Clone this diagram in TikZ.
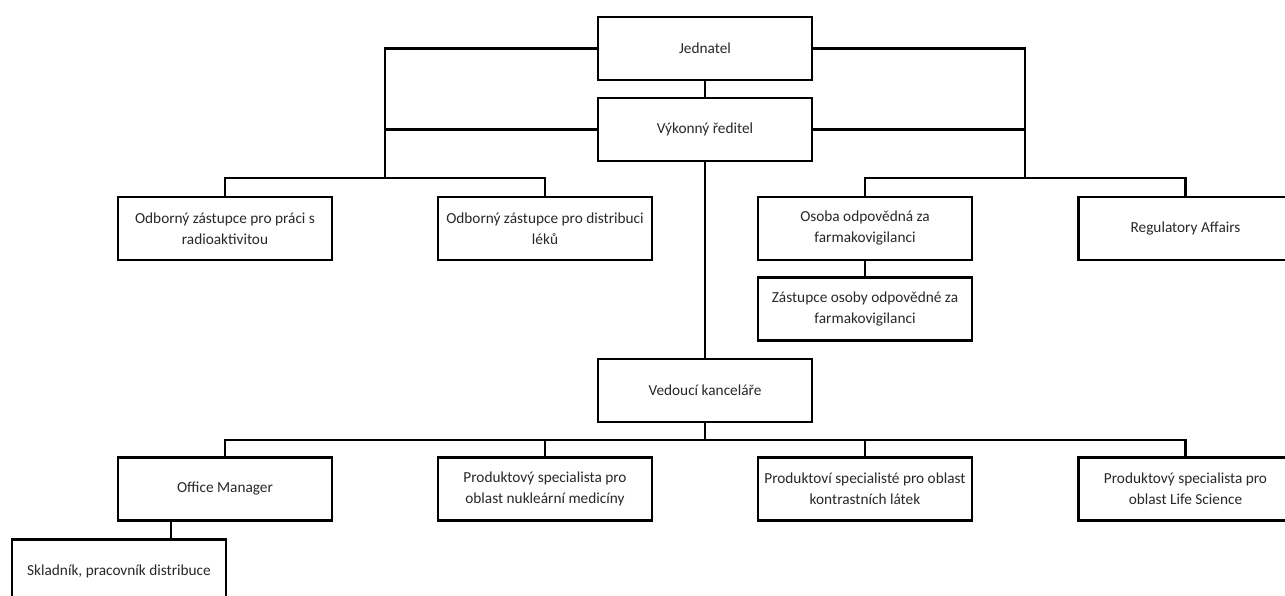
\documentclass[tikz,border=0pt]{standalone}
\usepackage{fontspec}
\setmainfont{Carlito}
\definecolor{txt}{RGB}{40,40,40}
\begin{document}
\begin{tikzpicture}[x=1pt,y=-1pt,
  unit/.style={draw=black, line width=2.6pt, fill=white, minimum width=214pt, minimum height=63pt,
    align=center, inner sep=1pt, text=txt,
    font=\fontsize{15.3}{21}\selectfont},
  link/.style={draw=black, line width=2.6pt, line join=miter}]
\useasboundingbox (0,0) rectangle (1285,596);
\clip (0,0) rectangle (1285,596);
% top
\node[unit] (J) at (705,48.5) {Jednatel};
\node[unit] (V) at (705,129.5) {Výkonný ředitel};
% second row
\node[unit] (A) at (225,228.5) {Odborný zástupce pro práci s\\radioaktivitou};
\node[unit] (B) at (545,228.5) {Odborný zástupce pro distribuci\\léků};
\node[unit] (C) at (865,228.5) {Osoba odpovědná za\\farmakovigilanci};
\node[unit] (D) at (1185.5,228.5) {Regulatory Affairs};
\node[unit] (Z) at (865,309) {Zástupce osoby odpovědné za\\farmakovigilanci};
% office
\node[unit] (K) at (705,390.5) {Vedoucí kanceláře};
\node[unit] (O) at (225,489) {Office Manager};
\node[unit] (N) at (545,489) {Produktový specialista pro\\oblast nukleární medicíny};
\node[unit] (P) at (865,489) {Produktoví specialisté pro oblast\\kontrastních látek};
\node[unit] (L) at (1185.5,489) {Produktový specialista pro\\oblast Life Science};
\node[unit] (S) at (119,571) {Skladník, pracovník distribuce};
% junction coordinates
\coordinate (lb) at (385,178);
\coordinate (rb) at (1025,178);
\coordinate (kb) at (705,440);
\coordinate (om) at (171,521);
% connectors
\draw[link] (J) -- (V);
\draw[link] (J.west) -| (lb);
\draw[link] (V.west) -- (V.west -| lb);
\draw[link] (A.north) |- (lb) -| (B.north);
\draw[link] (J.east) -| (rb);
\draw[link] (V.east) -- (V.east -| rb);
\draw[link] (C.north) |- (rb) -| (D.north);
\draw[link] (C) -- (Z);
\draw[link] (V) -- (K);
\draw[link] (K) -- (kb);
\draw[link] (O.north) |- (kb) -| (L.north);
\draw[link] (N.north) -- (N.north |- kb);
\draw[link] (P.north) -- (P.north |- kb);
\draw[link] (om) -- (om |- S.north);
\end{tikzpicture}
\end{document}
